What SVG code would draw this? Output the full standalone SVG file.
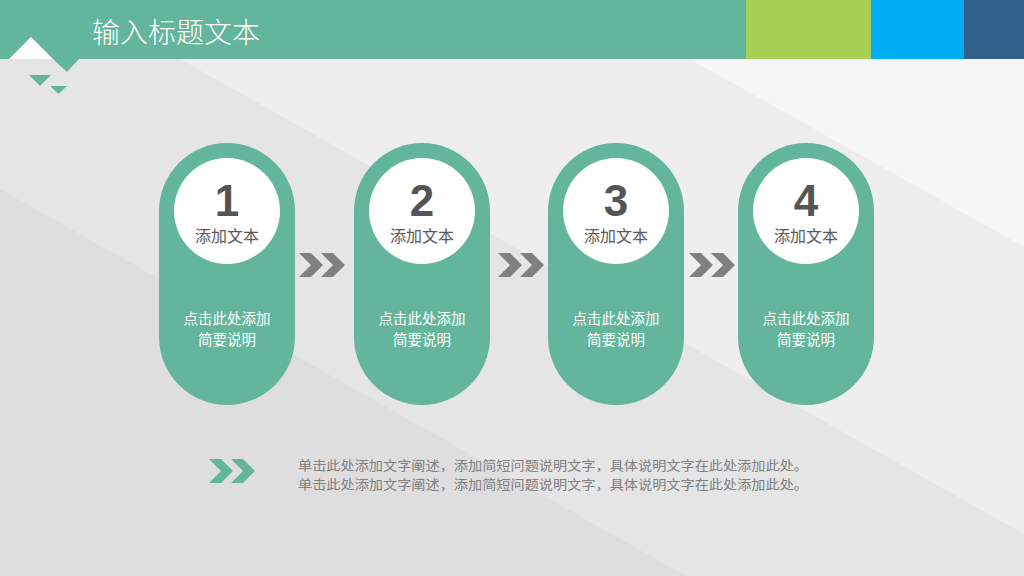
<svg xmlns="http://www.w3.org/2000/svg" width="1024" height="576" viewBox="0 0 1024 576">
<defs>
<style>
.pill{fill:#63B69B}
.disc{fill:#FFFFFF}
.num{font-family:"Liberation Sans",Arial,sans-serif;font-weight:bold;font-size:44px;fill:#555555;text-anchor:middle}
.lbl{font-family:"Noto Sans CJK SC",sans-serif;font-size:16px;fill:#595959;text-anchor:middle}
.desc{font-family:"Noto Sans CJK SC",sans-serif;font-size:14.5px;fill:#FFFFFF;text-anchor:middle}
.chev{fill:#808080}
.gchev{fill:#63B69B}
.note{font-family:"Noto Sans CJK SC",sans-serif;font-size:13px;fill:#808080}
</style>
<polygon id="chv" points="0,0 12,0 24,12 12,24 0,24 12,12"/>
</defs>
<!-- background bands -->
<rect x="0" y="0" width="1024" height="576" fill="#E5E5E5"/>
<polygon points="75,0 1024,0 1024,534" fill="#EEEEEE"/>
<polygon points="585,0 1024,0 1024,247" fill="#F6F6F6"/>
<polygon points="0,189 686,576 0,576" fill="#DEDEDE"/>
<!-- header -->
<rect x="0" y="0" width="1024" height="59" fill="#63B69B"/>
<rect x="746" y="0" width="125" height="59" fill="#A8CF55"/>
<rect x="871" y="0" width="93" height="59" fill="#00AEF5"/>
<rect x="964" y="0" width="60" height="59" fill="#30628A"/>
<polygon points="9,59 31,37 53,59" fill="#FFFFFF"/>
<polygon points="53,59 79,59 67,72" fill="#63B69B"/>
<polygon points="29,75 51,75 40,86" fill="#63B69B"/>
<polygon points="50,86 67,86 58.5,94" fill="#63B69B"/>
<text x="92" y="43" font-family="'Noto Sans CJK SC',sans-serif" font-size="28" font-weight="300" fill="#FFFFFF">输入标题文本</text>
<!-- connectors -->
<g id="connectors">
<use href="#chv" class="chev" x="299" y="253"/><use href="#chv" class="chev" x="321" y="253"/>
<use href="#chv" class="chev" x="498" y="253"/><use href="#chv" class="chev" x="520" y="253"/>
<use href="#chv" class="chev" x="689" y="253"/><use href="#chv" class="chev" x="711" y="253"/>
</g>
<!-- nodes -->
<g id="step1">
<rect class="pill" x="159" y="143" width="136" height="262" rx="68"/>
<circle class="disc" cx="227" cy="211" r="53"/>
<text class="num" x="227" y="216">1</text>
<text class="lbl" x="227" y="242">添加文本</text>
<text class="desc" x="227" y="324">点击此处添加<tspan x="227" dy="21">简要说明</tspan></text>
</g>
<g id="step2">
<rect class="pill" x="354" y="143" width="136" height="262" rx="68"/>
<circle class="disc" cx="422" cy="211" r="53"/>
<text class="num" x="422" y="216">2</text>
<text class="lbl" x="422" y="242">添加文本</text>
<text class="desc" x="422" y="324">点击此处添加<tspan x="422" dy="21">简要说明</tspan></text>
</g>
<g id="step3">
<rect class="pill" x="548" y="143" width="136" height="262" rx="68"/>
<circle class="disc" cx="616" cy="211" r="53"/>
<text class="num" x="616" y="216">3</text>
<text class="lbl" x="616" y="242">添加文本</text>
<text class="desc" x="616" y="324">点击此处添加<tspan x="616" dy="21">简要说明</tspan></text>
</g>
<g id="step4">
<rect class="pill" x="738" y="143" width="136" height="262" rx="68"/>
<circle class="disc" cx="806" cy="211" r="53"/>
<text class="num" x="806" y="216">4</text>
<text class="lbl" x="806" y="242">添加文本</text>
<text class="desc" x="806" y="324">点击此处添加<tspan x="806" dy="21">简要说明</tspan></text>
</g>
<!-- note -->
<g id="note">
<use href="#chv" class="gchev" x="209" y="459"/>
<use href="#chv" class="gchev" x="231" y="459"/>
<text class="note" x="298" y="470"><tspan x="298" textLength="510" lengthAdjust="spacingAndGlyphs">单击此处添加文字阐述，添加简短问题说明文字，具体说明文字在此处添加此处。</tspan><tspan x="298" dy="19" textLength="510" lengthAdjust="spacingAndGlyphs">单击此处添加文字阐述，添加简短问题说明文字，具体说明文字在此处添加此处。</tspan></text>
</g>
</svg>
